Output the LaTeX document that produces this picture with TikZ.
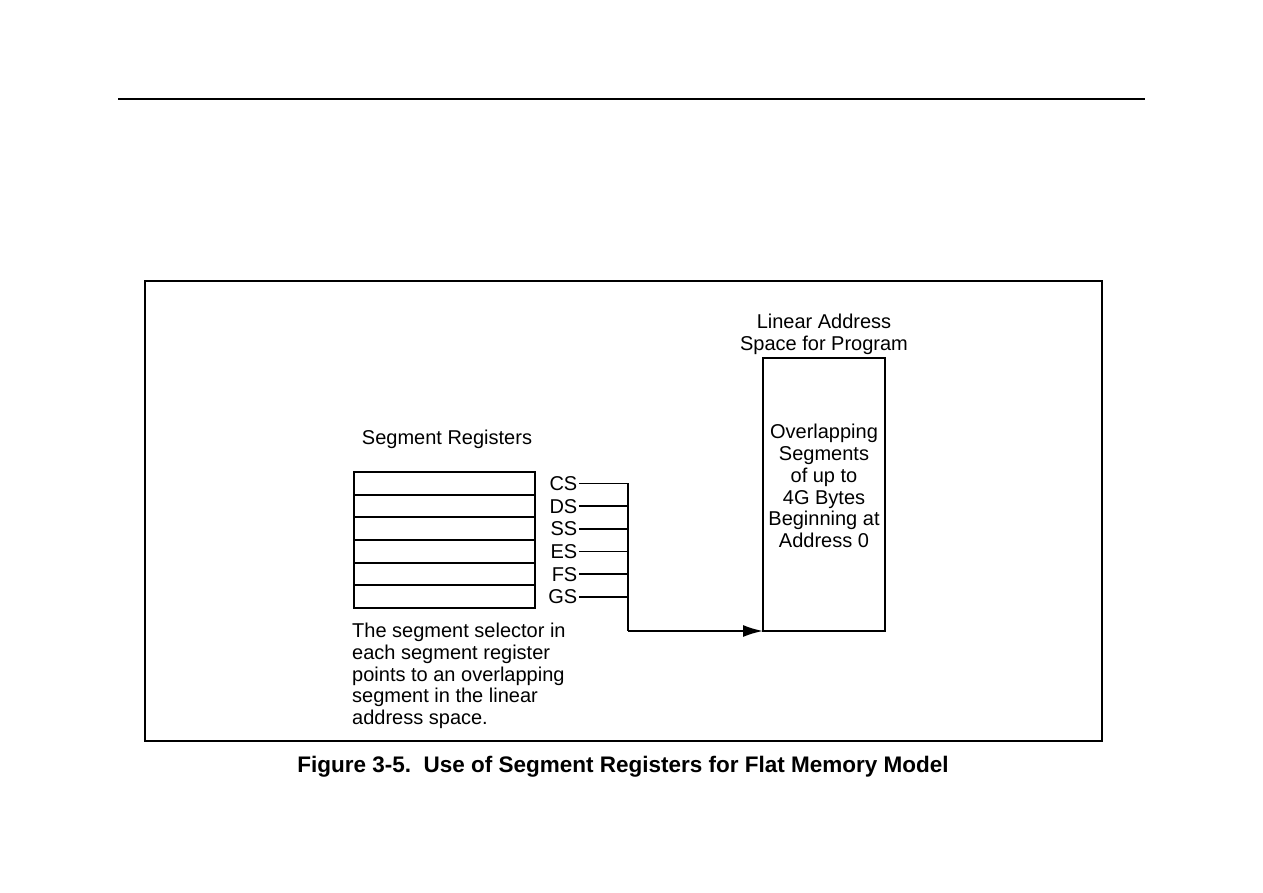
\documentclass[tikz,border=0pt]{standalone}
\usepackage{fontspec}
\setmainfont{Liberation Sans}
\usetikzlibrary{arrows.meta}
\newcommand{\txtfont}{\fontsize{20}{21.75}\selectfont}
\begin{document}
\begin{tikzpicture}[x=1pt,y=-1pt,
  txt/.style={font=\txtfont, inner sep=0pt},
  reg/.style={draw, line width=2pt, minimum width=181pt, minimum height=22.67pt, inner sep=0pt, outer sep=0pt},
  lbl/.style={font=\txtfont, inner sep=1.5pt, anchor=base east},
  wire/.style={line width=1.8pt},
  frm/.style={draw, line width=2.4pt, inner sep=0pt, outer sep=0pt}]
\useasboundingbox (0,0) rectangle (1263,893);
% top rule
\coordinate (rl) at (118,99);
\coordinate (rr) at (1145,99);
\draw[line width=1.6pt] (rl) -- (rr);
% frame
\node[frm, minimum width=957pt, minimum height=460pt] (frame) at (623.5,511) {};
% caption
\node[font=\fontsize{22.5}{27}\selectfont\bfseries, inner sep=0pt, anchor=base] (cap) at (623,772) {Figure 3-5.\ \ Use of Segment Registers for Flat Memory Model};
% segment registers
\node[txt, anchor=base] (segt) at (447,444) {Segment Registers};
\node[reg] (r1) at (444.5,483.33) {};
\node[reg] (r2) at (444.5,506.00) {};
\node[reg] (r3) at (444.5,528.67) {};
\node[reg] (r4) at (444.5,551.33) {};
\node[reg] (r5) at (444.5,574.00) {};
\node[reg] (r6) at (444.5,596.67) {};
\node[lbl] (cs) at (579,490.3) {CS};
\node[lbl] (ds) at (579,513.0) {DS};
\node[lbl] (ss) at (579,535.7) {SS};
\node[lbl] (es) at (579,558.3) {ES};
\node[lbl] (fs) at (579,581.0) {FS};
\node[lbl] (gs) at (579,603.7) {GS};
% bus
\coordinate (bt) at (628,483.33);
\coordinate (bb) at (628,631);
% linear address space
\node[txt, align=center, anchor=base] (lat) at (824,350.5) {Linear Address\\Space for Program};
\node[frm, minimum width=122pt, minimum height=273pt] (mem) at (824,494.5) {};
\node[txt, align=center] (memt) at (824,486) {Overlapping\\Segments\\of up to\\4G Bytes\\Beginning at\\Address 0};
% connectors
\draw[wire] (cs.east) -- (cs.east -| bt) -- (bb);
\foreach \n in {ds,ss,es,fs,gs} \draw[wire] (\n.east) -- (\n.east -| bt);
\draw[wire, -{Latex[length=20pt,width=12pt]}] (bb) -- (mem.south west);
% note
\node[txt, align=left, anchor=north west] (note) at (352,623) {The segment selector in\\each segment register\\points to an overlapping\\segment in the linear\\address space.};
\end{tikzpicture}
\end{document}
